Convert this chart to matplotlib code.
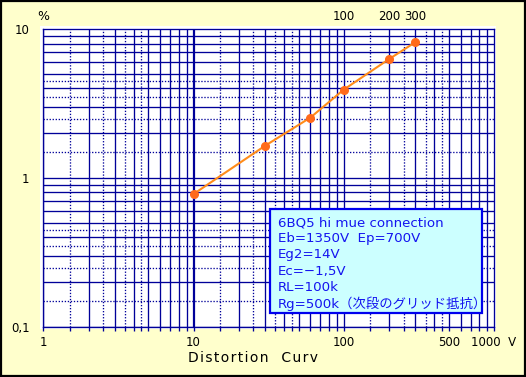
import matplotlib
matplotlib.use("Agg")
import matplotlib.pyplot as plt
from matplotlib.patches import Rectangle
from matplotlib.ticker import NullFormatter
from matplotlib.transforms import blended_transform_factory

# ---- data ----
voltage = [10, 30, 60, 100, 200, 300]          # output voltage (V)
distortion = [0.78, 1.65, 2.55, 3.93, 6.3, 8.2]  # distortion (%)

x_tick_values = [1, 10, 100, 500, 1000]
x_tick_labels = ["1", "10", "100", "500", "1000  V"]
y_tick_values = [0.1, 1, 10]
y_tick_labels = ["0,1", "1", "10"]
top_labels = [100, 200, 300]

info_lines = [
    "6BQ5 hi mue connection",
    "Eb=1350V  Ep=700V",
    "Eg2=14V",
    "Ec=\u22121,5V",
    "RL=100k",
    "Rg=500k\uff08次段のグリッド抵抗\uff09",
]

FONT = ["DejaVu Sans", "Noto Sans CJK JP"]
plt.rcParams["font.family"] = FONT

W, H = 526, 377
BG = "#FFFFCC"
GRID = "#000099"

fig = plt.figure(figsize=(W / 100, H / 100), dpi=100, facecolor=BG)

def fx(px):
    return px / W

def fy(py):
    return 1 - py / H

# white plotting panel behind axes
fig.patches.append(Rectangle((fx(40), fy(329)), fx(496) - fx(40), fy(26) - fy(329),
                             transform=fig.transFigure, facecolor="white",
                             edgecolor="none", zorder=-5))
# figure frame
fig.patches.append(Rectangle((0.001, 0.002), 0.997, 0.996, transform=fig.transFigure,
                             facecolor="none", edgecolor="black", lw=1.6, zorder=10))

L, R, T, B = 43.3, 494.0, 29.3, 326.7
ax = fig.add_axes([fx(L), fy(B), fx(R) - fx(L), fy(T) - fy(B)])
ax.set_zorder(1)
ax.set_facecolor("white")
ax.set_xscale("log")
ax.set_yscale("log")
ax.set_xlim(1, 1000)
ax.set_ylim(0.1, 10)

# grid lines
solid_mult = [1, 2, 3, 4, 5, 6, 7, 8, 9]
dot_mult = [1.5, 2.5, 3.5, 4.5]
xdec = [1, 10, 100]
ydec = [0.1, 1]
xs_solid = [d * m for d in xdec for m in solid_mult]
xs_dot = [d * m for d in xdec for m in dot_mult]
ys_solid = [d * m for d in ydec for m in solid_mult]
ys_dot = [d * m for d in ydec for m in dot_mult]

for x in xs_solid:
    ax.axvline(x, color=GRID, lw=1.6 if x == 10 else 0.95, zorder=1)
for x in xs_dot:
    ax.axvline(x, color=GRID, lw=0.95, ls=(0, (1, 1.3)), zorder=1)
for y in ys_solid:
    ax.axhline(y, color=GRID, lw=0.95, zorder=1)
for y in ys_dot:
    ax.axhline(y, color=GRID, lw=0.95, ls=(0, (1, 1.3)), zorder=1)

for s in ax.spines.values():
    s.set_color(GRID)
    s.set_linewidth(0.95)

# ticks
ax.set_xticks(x_tick_values, x_tick_labels)
ax.set_xticks(xs_solid + xs_dot + [1000], minor=True)
ax.xaxis.set_minor_formatter(NullFormatter())
ax.set_yticks(y_tick_values, y_tick_labels)
ax.set_yticks([], minor=True)
ax.yaxis.set_minor_formatter(NullFormatter())
ax.tick_params(axis="x", which="both", direction="out", length=3, width=0.95,
               color=GRID, labelsize=8.5, pad=4)
ax.tick_params(axis="y", which="both", length=0, labelsize=8.5, pad=10)

# data
ax.plot(voltage, distortion, color="#FF8C1A", lw=1.5, marker="o",
        markersize=5.5, markerfacecolor="#FF6A1A", markeredgecolor="#FF6A1A", zorder=5)

# top labels
tr = blended_transform_factory(ax.transData, ax.transAxes)
for v in top_labels:
    ax.text(v, 1.042, str(v), transform=tr, ha="center", va="center",
            fontsize=8.5, color="black")

fig.text(fx(43), fy(17), "%", ha="center", va="center", fontsize=9)
fig.text(fx(253), fy(358), "\u200a".join("Distortion  Curv"),
         ha="center", va="center", fontsize=10)

# info box
fig.patches.append(Rectangle((fx(270), fy(313)), fx(482) - fx(270), fy(209) - fy(313),
                             transform=fig.transFigure, facecolor="#CCFFFF",
                             edgecolor="#0000EE", lw=1.6, zorder=6))
for i, line in enumerate(info_lines):
    fig.text(fx(278), fy(222.5 + 16.2 * i), line, ha="left", va="center",
             fontsize=9.6, color="#1414F0", zorder=7)

fig.savefig("out.png", dpi=100, facecolor=BG)
